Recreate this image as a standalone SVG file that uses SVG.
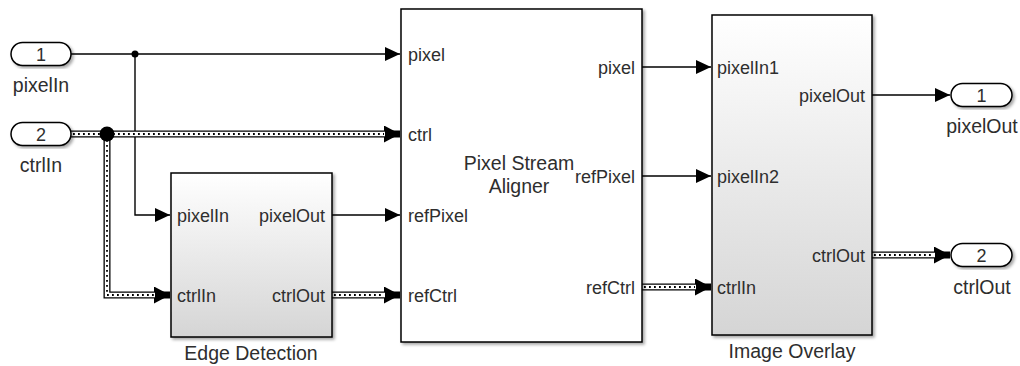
<svg xmlns="http://www.w3.org/2000/svg" width="1020" height="366" viewBox="0 0 1020 366">
<defs>
<style>
text{font-family:"Liberation Sans",Arial,sans-serif;font-size:18px;fill:#2e2e2e}
.lbl{font-size:19.5px}
.blk{stroke:#000;stroke-width:1.5}
.pill{fill:#fff;stroke:#000;stroke-width:1.5}
.sig{fill:none;stroke:#000;stroke-width:1.4}
.busO{fill:none;stroke:#000;stroke-width:7;stroke-linejoin:miter}
.busI{fill:none;stroke:#fff;stroke-width:4.4;stroke-linejoin:miter}
.busD{fill:none;stroke:#000;stroke-width:1.8;stroke-dasharray:1.8 3.2}
.mid{text-anchor:middle}
.end{text-anchor:end}
</style>
<linearGradient id="g" x1="0" y1="0" x2="0" y2="1">
<stop offset="0" stop-color="#ffffff"/>
<stop offset="1" stop-color="#d5d5d5"/>
</linearGradient>
<filter id="sh" x="-10%" y="-10%" width="125%" height="125%">
<feDropShadow dx="2" dy="2" stdDeviation="1.5" flood-color="#000" flood-opacity="0.35"/>
</filter>
<marker id="a" markerUnits="userSpaceOnUse" markerWidth="15" markerHeight="14" refX="15" refY="7" orient="auto">
<path d="M0,0 L15,7 L0,14 Z" fill="#000"/>
</marker>
<marker id="b" markerUnits="userSpaceOnUse" markerWidth="16" markerHeight="17" refX="16" refY="8.5" orient="auto">
<path d="M0,0 L16,8.5 L0,17 Z" fill="#000"/>
</marker>
</defs>
<rect width="1020" height="366" fill="#fff"/>

<g id="connectors">
<path class="sig" d="M71,54 H400" marker-end="url(#a)"/>
<path class="sig" d="M135,54 V215 H170" marker-end="url(#a)"/>
<path class="sig" d="M332,215 H400" marker-end="url(#a)"/>
<path class="sig" d="M642,67 H711" marker-end="url(#a)"/>
<path class="sig" d="M642,176 H711" marker-end="url(#a)"/>
<path class="sig" d="M872,95 H950" marker-end="url(#a)"/>

<path class="busO" d="M71,134 H400" marker-end="url(#b)"/>
<path class="busI" d="M71,134 H385"/>
<path class="busD" d="M73,134 H384"/>
<path class="busO" d="M107,134 V295 H170" marker-end="url(#b)"/>
<path class="busI" d="M107,134 V295 H155"/>
<path class="busD" d="M107,140 V295 H154"/>
<path class="busO" d="M332,295 H400" marker-end="url(#b)"/>
<path class="busI" d="M332,295 H385"/>
<path class="busD" d="M334,295 H384"/>
<path class="busO" d="M642,287 H711" marker-end="url(#b)"/>
<path class="busI" d="M642,287 H696"/>
<path class="busD" d="M644,287 H695"/>
<path class="busO" d="M872,255 H950" marker-end="url(#b)"/>
<path class="busI" d="M872,255 H935"/>
<path class="busD" d="M874,255 H934"/>

<circle cx="135" cy="54" r="3.5" fill="#000"/>
<circle cx="107" cy="134" r="7.5" fill="#000"/>
</g>

<g id="in1">
<rect class="pill" x="11" y="42.5" width="60" height="23" rx="11.5" filter="url(#sh)"/>
<text class="mid" x="41" y="60.5">1</text>
<text class="mid lbl" x="41" y="92">pixelIn</text>
</g>
<g id="in2">
<rect class="pill" x="11" y="122.5" width="60" height="23" rx="11.5" filter="url(#sh)"/>
<text class="mid" x="41" y="140.5">2</text>
<text class="mid lbl" x="41" y="172">ctrlIn</text>
</g>

<g id="edge">
<rect class="blk" x="171" y="173" width="161" height="164" fill="url(#g)" filter="url(#sh)"/>
<text x="177" y="221.5">pixelIn</text>
<text x="177" y="301.5">ctrlIn</text>
<text class="end" x="325" y="221.5">pixelOut</text>
<text class="end" x="325" y="301.5">ctrlOut</text>
<text class="mid lbl" x="251" y="360">Edge Detection</text>
</g>

<g id="aligner">
<rect class="blk" x="401" y="9" width="241" height="333" fill="#fff" filter="url(#sh)"/>
<text x="408" y="60.5">pixel</text>
<text x="408" y="140.5">ctrl</text>
<text x="408" y="221.5">refPixel</text>
<text x="408" y="301.5">refCtrl</text>
<text class="end" x="635" y="73.5">pixel</text>
<text class="end" x="635" y="182.5">refPixel</text>
<text class="end" x="635" y="293.5">refCtrl</text>
<text class="mid lbl" x="519" y="169.5">Pixel Stream</text>
<text class="mid lbl" x="519" y="193">Aligner</text>
</g>

<g id="overlay">
<rect class="blk" x="712" y="15" width="160" height="320" fill="url(#g)" filter="url(#sh)"/>
<text x="717" y="73.5">pixelIn1</text>
<text x="717" y="182.5">pixelIn2</text>
<text x="717" y="293.5">ctrlIn</text>
<text class="end" x="865" y="101.5">pixelOut</text>
<text class="end" x="865" y="261.5">ctrlOut</text>
<text class="mid lbl" x="792" y="358">Image Overlay</text>
</g>

<g id="out1">
<rect class="pill" x="951" y="83.5" width="61" height="23" rx="11.5" filter="url(#sh)"/>
<text class="mid" x="981.5" y="101.5">1</text>
<text class="mid lbl" x="982" y="133">pixelOut</text>
</g>
<g id="out2">
<rect class="pill" x="951" y="243.5" width="61" height="23" rx="11.5" filter="url(#sh)"/>
<text class="mid" x="981.5" y="261.5">2</text>
<text class="mid lbl" x="982" y="294">ctrlOut</text>
</g>
</svg>
